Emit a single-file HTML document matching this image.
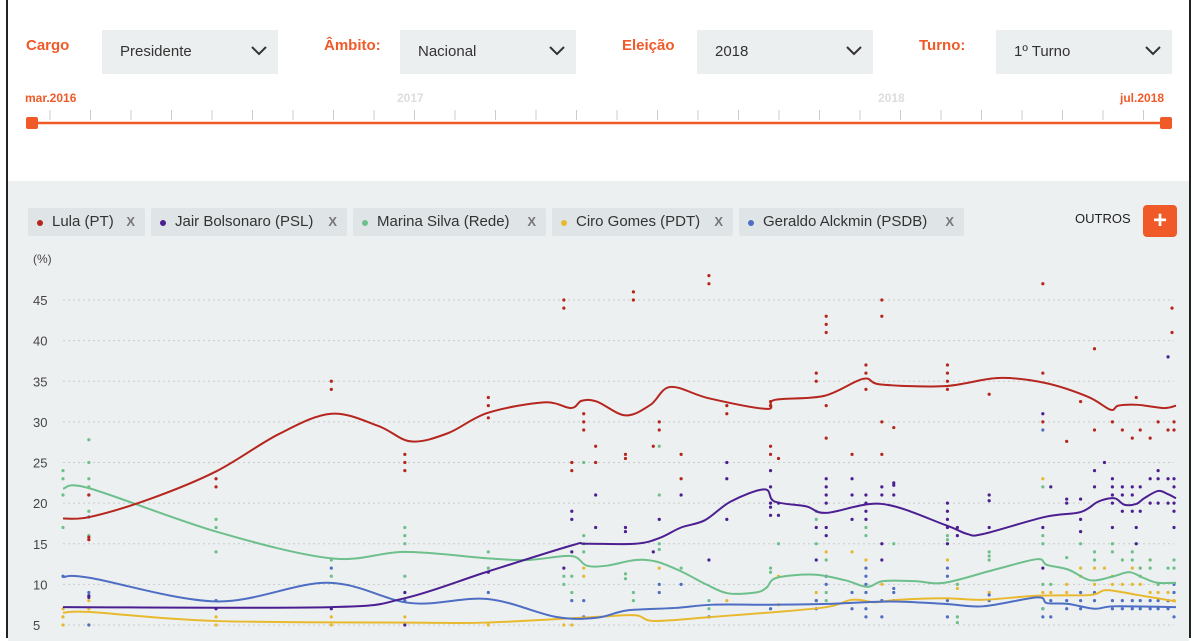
<!DOCTYPE html>
<html><head><meta charset="utf-8">
<style>
*{box-sizing:border-box;margin:0;padding:0}
body{width:1200px;height:630px;overflow:hidden;background:#fff;font-family:"Liberation Sans",sans-serif;position:relative}
#frame{position:absolute;left:6px;top:-2px;width:1185px;height:640px;border-left:2px solid #222;border-right:2px solid #222;background:#fff}
#gray{position:absolute;left:8px;top:181px;width:1181px;height:460px;background:#edf0f1}
.lbl{position:absolute;top:37px;color:#f05a28;font-weight:bold;font-size:15px}
.dd{position:absolute;top:30px;width:176px;height:44px;background:#eceff0;font-size:15px;color:#333;padding:13px 0 0 18px}
.dd svg{position:absolute;right:10px;top:15px}
.sl{position:absolute;top:91px;font-size:12px;font-weight:bold}
.chip{position:absolute;top:208px;height:28px;background:#dfe4e6;border-radius:2px;font-size:15px;color:#333;padding:5px 0 0 24px;white-space:nowrap}
.chip .dot{position:absolute;left:9px;top:12px;width:6px;height:6px;border-radius:50%}
.chip .x{position:absolute;right:10px;top:6px;color:#777;font-weight:bold;font-size:13px}
</style></head><body>
<div id="frame"></div>
<div id="gray"></div>

<div class="lbl" style="left:26px">Cargo</div>
<div class="dd" style="left:102px">Presidente<svg width="18" height="12" viewBox="0 0 18 12"><path d="M2 2 L9 9 L16 2" stroke="#333" stroke-width="2" fill="none"/></svg></div>
<div class="lbl" style="left:324px">Âmbito:</div>
<div class="dd" style="left:400px">Nacional<svg width="18" height="12" viewBox="0 0 18 12"><path d="M2 2 L9 9 L16 2" stroke="#333" stroke-width="2" fill="none"/></svg></div>
<div class="lbl" style="left:622px">Eleição</div>
<div class="dd" style="left:697px">2018<svg width="18" height="12" viewBox="0 0 18 12"><path d="M2 2 L9 9 L16 2" stroke="#333" stroke-width="2" fill="none"/></svg></div>
<div class="lbl" style="left:919px">Turno:</div>
<div class="dd" style="left:996px">1º Turno<svg width="18" height="12" viewBox="0 0 18 12"><path d="M2 2 L9 9 L16 2" stroke="#333" stroke-width="2" fill="none"/></svg></div>

<div class="sl" style="left:25px;color:#f05a28">mar.2016</div>
<div class="sl" style="left:397px;color:#ddd">2017</div>
<div class="sl" style="left:878px;color:#ddd">2018</div>
<div class="sl" style="left:1120px;color:#f05a28">jul.2018</div>
<svg id="slider" style="position:absolute;left:0;top:100px" width="1200" height="40"></svg>

<div class="chip" style="left:28px;width:117px"><span class="dot" style="background:#b5261e"></span>Lula (PT)<span class="x">X</span></div>
<div class="chip" style="left:151px;width:196px"><span class="dot" style="background:#4b1f91"></span>Jair Bolsonaro (PSL)<span class="x">X</span></div>
<div class="chip" style="left:353px;width:193px"><span class="dot" style="background:#6dbf8b"></span>Marina Silva (Rede)<span class="x">X</span></div>
<div class="chip" style="left:552px;width:181px"><span class="dot" style="background:#e8b92f"></span>Ciro Gomes (PDT)<span class="x">X</span></div>
<div class="chip" style="left:739px;width:225px"><span class="dot" style="background:#4e6ec4"></span>Geraldo Alckmin (PSDB)<span class="x">X</span></div>
<div style="position:absolute;left:1075px;top:211px;font-size:13px;color:#222">OUTROS</div>
<div style="position:absolute;left:1143px;top:205px;width:34px;height:32px;background:#f05a28;border-radius:4px;color:#fff;font-size:24px;font-weight:bold;text-align:center;line-height:31px">+</div>

<svg id="chart" style="position:absolute;left:0;top:0" width="1200" height="630"></svg>

<script>
const yTicks=[5,10,15,20,25,30,35,40,45];
const lulaLine=[[0,18.1],[0.68,18.3],[2.18,20.5],[3.85,23.9],[5.43,28.5],[6.75,31],[7.93,29.5],[8.75,27.6],[9.68,28.6],[10.68,31.1],[12.1,32.4],[12.78,31.7],[13.05,32.6],[13.43,32.5],[14.15,30.8],[14.78,32.1],[15.28,34.3],[16.25,32.9],[17.7,31.6],[17.9,32.7],[19.15,33.2],[20.13,35.3],[20.58,34.6],[22.18,34.4],[23.53,35.4],[24.7,34.8],[25.78,33.1],[26.35,31.5],[26.55,32],[27.03,32.1],[27.7,31.7],[28,32]];
const bolsoLine=[[0,7.2],[6.75,7.2],[8.6,8.3],[10.7,11.6],[12.8,14.8],[13.15,15],[14.4,15],[15,15.7],[15.55,17],[16.15,17.9],[16.8,20.2],[17.65,21.7],[17.9,20.2],[18.7,19.6],[19.2,18.8],[20.6,19.9],[22.2,17.3],[22.75,16.2],[23.15,16.2],[24.7,18.3],[25.6,18.9],[26.05,20.2],[26.45,20.6],[26.7,19.8],[27,19.9],[27.2,20.6],[27.55,21.5],[27.8,21.1],[28,20.6]];
const marinaLine=[[0,21.8],[0.68,21.8],[3.85,16.5],[6.75,13.2],[8.6,14],[10.7,13.2],[11.7,13],[12.78,13.5],[13.18,12.3],[13.68,12.3],[14.4,13],[14.93,12.8],[15.55,11.6],[16.18,10],[16.73,8.9],[17.43,9],[17.7,9.6],[17.95,10.8],[18.88,11.2],[19.68,10.5],[20.23,9.7],[20.63,10.4],[21.43,10.4],[22.18,10.2],[23.43,11.8],[24.5,13.1],[24.75,12.4],[25.3,11.8],[25.85,10.5],[26.43,11],[26.83,11.5],[27.18,10.8],[27.53,10.2],[28,10.2]];
const ciroLine=[[0,6.5],[0.68,6.6],[3.78,5.5],[8.75,5.3],[10.68,5.3],[13.43,6],[14.4,6.2],[14.88,5.5],[16.35,6],[19.05,7.1],[19.85,8.1],[20.43,7.8],[21,8.1],[22.18,8.3],[23.15,8.1],[24.5,8.6],[25.85,8.7],[26.25,9.3],[27.03,8.7],[28,7.9]];
const alckLine=[[0,10.9],[0.68,10.8],[3.85,7.9],[6.65,10.2],[8.75,7.7],[10.68,8.2],[12.4,6],[13.43,5.9],[14.2,6.8],[15.4,7.1],[16.35,7.5],[17.8,7.5],[19.25,7.6],[20.8,7.9],[22.18,7.6],[23.15,7.3],[24.5,8.4],[24.75,7.7],[25.28,7.6],[25.95,7],[26.45,7.3],[28,7.2]];
const lulaDots=[[0.65,21],[0.65,15.5],[0.65,15.8],[3.85,23],[3.85,22],[6.75,35],[6.75,34],[8.6,26],[8.6,25],[8.6,24],[10.7,33],[10.7,32],[10.7,30.5],[12.6,45],[12.6,44],[12.8,25],[12.8,24],[13.1,31],[13.1,30],[13.1,29],[13.4,27],[13.4,25],[14.15,26],[14.15,25.5],[14.35,46],[14.35,45],[14.85,27],[15,30],[15,29],[15.55,26],[15.55,23],[16.25,48],[16.25,47],[16.7,32],[16.7,31],[17.8,32.5],[17.8,32],[17.8,27],[17.8,26],[18,25.5],[18.95,36],[18.95,35],[19.2,43],[19.2,42],[19.2,41],[19.2,32],[19.2,28],[19.85,26],[20.2,37],[20.2,36],[20.2,34],[20.6,30],[20.6,26],[20.6,45],[20.6,43],[20.9,29.3],[22.25,37],[22.25,36],[22.25,35],[22.25,34],[23.3,33.4],[24.65,36],[24.65,30],[24.65,47],[25.25,27.6],[25.6,32.5],[25.95,39],[25.95,29],[26.4,30],[26.65,29],[26.9,28],[27,33],[27.1,29],[27.35,28],[27.55,30],[27.8,29],[27.9,44],[27.9,41],[27.95,29],[27.95,30]];
const bolsoDots=[[0.65,8.4],[0.65,8.6],[3.85,7],[6.75,7],[8.6,9],[8.6,5],[10.7,11.5],[12.6,12],[12.8,19],[12.8,18],[12.8,14],[13.4,21],[13.4,17],[14.15,17],[14.15,16.5],[14.85,14],[15,18],[15.55,21],[16.25,13],[16.7,25],[16.7,23],[16.7,18],[17.8,24],[17.8,22],[17.8,20],[17.8,19.5],[17.8,18.5],[18,20],[18,18.5],[18.95,17],[18.95,13],[19.2,23],[19.2,22],[19.2,21],[19.2,20],[19.2,17],[19.2,16],[19.85,23],[19.85,21],[19.85,18],[20.2,21],[20.2,20],[20.2,19],[20.2,18],[20.6,22],[20.6,21],[20.6,15],[20.6,13],[20.9,22.5],[20.9,22.2],[20.9,21],[22.25,20],[22.25,19],[22.25,18],[22.25,17],[22.25,15],[22.5,17],[22.5,16],[23.3,21],[23.3,20.3],[23.3,17],[24.65,31],[24.65,17],[24.65,12],[24.85,22],[25.25,20.5],[25.25,20],[25.6,20.5],[25.6,18],[25.6,16.5],[25.95,24],[25.95,22],[26.2,25],[26.4,23],[26.4,22],[26.4,21],[26.4,20],[26.4,17],[26.65,22],[26.65,21],[26.65,19],[26.9,22],[26.9,21],[26.9,19],[27,17],[27,15],[27.1,22],[27.1,19],[27.35,23],[27.35,20],[27.55,24],[27.55,23],[27.55,20],[27.8,38],[27.8,23],[27.8,20],[27.95,23],[27.95,22],[27.95,20],[27.95,19],[27.95,17]];
const marinaDots=[[0,24],[0,23],[0,21],[0,17],[0.65,27.8],[0.65,25],[0.65,23],[0.65,22],[0.65,21],[0.65,19],[0.65,16],[3.85,18],[3.85,17],[3.85,14],[6.75,13],[6.75,11],[8.6,17],[8.6,16],[8.6,15],[8.6,11],[10.7,14],[10.7,12],[12.6,11],[12.6,10],[12.8,11],[12.8,9],[13.1,25],[13.1,16],[13.1,15],[13.1,14],[14.15,11.3],[14.15,10.7],[14.35,9],[14.35,8],[15,27],[15,21],[15,15],[15,14.3],[15.55,12],[16.25,8],[16.25,7],[17.8,12],[17.8,11.5],[18,15],[18.95,19],[18.95,18],[18.95,15],[19.2,13],[19.2,9],[19.2,8],[20.2,17],[20.2,16],[20.9,15],[22.25,16],[22.25,15.5],[22.5,10],[22.5,6],[22.5,5.3],[23.3,14],[23.3,13.5],[23.3,13],[24.65,22],[24.65,16],[24.65,15],[24.65,10],[24.65,7],[24.85,10],[25.25,13.3],[25.6,16.5],[25.6,15],[25.95,14],[25.95,13],[26.4,15],[26.4,14],[26.65,13],[26.9,14],[26.9,13],[27.1,12],[27.1,11],[27.35,13],[27.35,12],[27.55,10],[27.8,12],[27.95,13],[27.95,12]];
const ciroDots=[[0,7],[0,6],[0,5],[0.65,8],[0.65,7],[0.65,5],[3.85,6],[3.85,5],[6.75,6],[6.75,5],[8.6,6],[10.7,5],[12.6,5],[12.8,5],[13.1,12],[13.1,11],[15,12],[16.7,8],[18,11],[18,7.5],[18.95,9],[18.95,8],[19.2,14],[19.85,14],[20.2,13],[20.2,12],[20.6,10],[20.6,8],[22.25,13],[22.5,10],[22.5,9.5],[23.3,9],[24.65,23],[24.65,9],[24.85,9],[25.25,10],[25.25,9],[25.6,12],[25.6,11],[25.95,12],[25.95,10],[26.2,12],[26.4,11],[26.4,10],[26.65,10],[26.9,12],[26.9,10],[27.1,12],[27.1,10],[27.35,13],[27.35,9],[27.55,10],[27.55,9],[27.8,9],[27.8,8],[27.95,8]];
const alckDots=[[0,11],[0.65,18.3],[0.65,9],[0.65,5],[3.85,8],[6.75,12],[8.6,8],[10.7,9],[12.8,8],[13.1,8],[13.1,6],[15,10],[15,9],[15.55,10],[16.25,6],[17.8,7],[18.95,8],[18.95,7],[19.2,11],[19.2,10],[19.85,9],[19.85,7],[20.2,12],[20.2,11],[20.2,10],[20.2,9],[20.2,7],[20.2,6],[20.6,8],[20.6,6],[20.9,9.5],[20.9,9],[20.9,8],[22.25,12],[22.25,11],[22.25,8],[22.25,6],[23.3,8.7],[23.3,8],[24.65,29],[24.65,7],[24.65,6],[24.85,8],[24.85,6],[25.25,8],[25.25,7],[25.6,9],[25.6,8],[25.6,7],[25.95,9],[25.95,8],[26.4,8],[26.4,7],[26.65,8],[26.65,7],[26.9,8],[26.9,7],[27.1,8],[27.1,7],[27.35,8],[27.35,7],[27.55,8],[27.55,7],[27.8,8],[27.8,7],[27.95,10],[27.95,9],[27.95,6]];

const NS='http://www.w3.org/2000/svg';
const X=t=>63+t*(1176-63)/28;
const Y=v=>625-(v-5)*8.125;
const svg=document.getElementById('chart');
function mk(tag,attrs,parent){const e=document.createElementNS(NS,tag);for(const k in attrs)e.setAttribute(k,attrs[k]);(parent||svg).appendChild(e);return e;}

// slider
const sl=document.getElementById('slider');
for(let x=50;x<1165;x+=40.5){const tk=mk('line',{x1:x,x2:x,y1:10,y2:20,stroke:'#ccc','stroke-width':1},sl);

}
const trk=mk('line',{x1:32,x2:1166,y1:23,y2:23,stroke:'#f05a28','stroke-width':2.5},sl);


const h1=mk('rect',{x:26,y:17,width:12,height:12,rx:2,fill:'#f05a28'},sl);


const h2=mk('rect',{x:1160,y:17,width:12,height:12,rx:2,fill:'#f05a28'},sl);



// axis
const yl=mk('text',{x:33,y:263,'font-size':12,fill:'#444'});yl.textContent='(%)';


yTicks.forEach(v=>{
  const g=mk('line',{x1:63,x2:1174,y1:Y(v),y2:Y(v),stroke:'#c9cccd','stroke-width':1,'stroke-dasharray':'2,3'});
  
  
  const t=mk('text',{x:33,y:Y(v)+5,'font-size':13,fill:'#444'});t.textContent=v;
  
  
});

function path(pts){
  const p=pts.map(d=>[X(d[0]),Y(d[1])]);
  let s='M'+p[0][0]+','+p[0][1];
  for(let i=0;i<p.length-1;i++){
    const p0=p[i-1]||p[i],p1=p[i],p2=p[i+1],p3=p[i+2]||p2;
    const c1x=p1[0]+(p2[0]-p0[0])/6,c1y=p1[1]+(p2[1]-p0[1])/6;
    const c2x=p2[0]-(p3[0]-p1[0])/6,c2y=p2[1]-(p3[1]-p1[1])/6;
    s+=' C'+c1x+','+c1y+' '+c2x+','+c2y+' '+p2[0]+','+p2[1];
  }
  return s;
}
const series=[
 ['ciro',ciroDots,ciroLine,'#e8b92f'],
 ['alckmin',alckDots,alckLine,'#4e6ec4'],
 ['marina',marinaDots,marinaLine,'#6dbf8b'],
 ['bolsonaro',bolsoDots,bolsoLine,'#4b1f91'],
 ['lula',lulaDots,lulaLine,'#b5261e']];
series.forEach(s=>{
  s[1].forEach(d=>{
    const c=mk('circle',{cx:X(d[0]),cy:Y(d[1]),r:1.6,fill:s[3]});
    
    
  });
});
series.forEach(s=>{
  const l=mk('path',{d:path(s[2]),fill:'none',stroke:s[3],'stroke-width':2});
  
  
});
</script>
</body></html>
